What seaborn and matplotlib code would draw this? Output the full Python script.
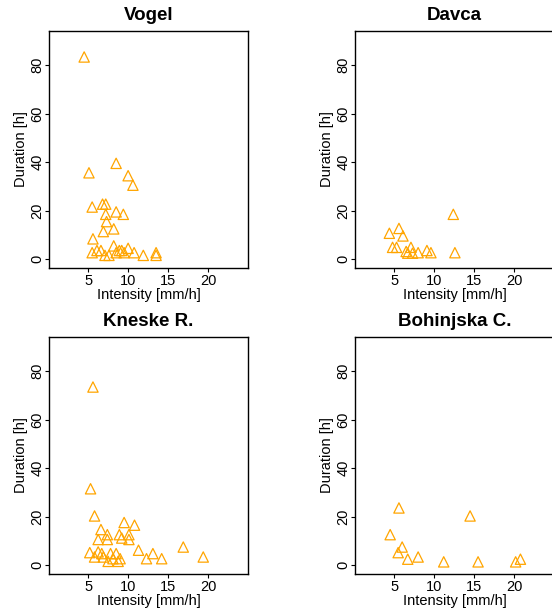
import pandas as pd
import matplotlib
matplotlib.use("Agg")
import matplotlib.pyplot as plt
import seaborn as sns

# Intensity [mm/h] and duration [h]
vogel_int = [4.5, 5.1, 8.5, 10.0, 10.6, 5.5, 6.8, 7.2, 7.2, 8.5, 9.4, 7.3, 6.9, 8.2, 5.6,
             5.5, 6.1, 6.6, 7.1, 7.6, 8.2, 8.5, 8.9, 9.2, 9.5, 10.0, 10.75, 11.9, 13.5, 13.5]
vogel_dur = [83.3, 35.6, 39.5, 34.4, 30.5, 21.5, 22.7, 22.7, 18.5, 19.5, 18.5, 15.5, 11.4, 12.5, 8.4,
             2.7, 3.6, 3.6, 1.6, 1.6, 5.5, 2.7, 3.6, 3.6, 2.7, 4.5, 2.7, 1.6, 2.7, 1.6]

davca_int = [4.4, 5.6, 6.1, 4.8, 5.3, 7.1, 6.5, 6.7, 7.3, 8.0, 9.1, 9.6, 12.4, 12.6]
davca_dur = [10.7, 12.7, 9.6, 4.9, 4.9, 4.9, 3.2, 2.5, 2.5, 2.7, 3.6, 2.7, 18.5, 2.7]

kneske_int = [5.6, 5.3, 5.8, 6.6, 6.25, 7.4, 7.4, 9.5, 10.8, 8.9, 9.2, 10.1, 10.1, 5.2, 6.25,
              6.7, 5.8, 6.9, 7.8, 8.5, 7.5, 8.1, 8.75, 9.0, 11.3, 12.3, 13.1, 14.2, 16.9, 19.4]
kneske_dur = [73.4, 31.5, 20.3, 14.7, 10.6, 12.6, 10.6, 17.6, 16.5, 12.6, 11.2, 12.6, 10.6, 5.2, 5.5,
              4.8, 3.4, 3.4, 4.8, 4.8, 1.6, 2.7, 1.6, 2.7, 6.2, 2.7, 4.8, 2.7, 7.5, 3.4]

bohinj_int = [4.5, 5.6, 6.0, 5.5, 6.7, 8.0, 11.2, 14.5, 15.5, 20.2, 20.8]
bohinj_dur = [12.6, 23.6, 7.5, 5.2, 2.5, 3.4, 1.4, 20.3, 1.4, 1.4, 2.5]

sites = ["Vogel", "Davca", "Kneske R.", "Bohinjska C."]
values = [(vogel_int, vogel_dur), (davca_int, davca_dur),
          (kneske_int, kneske_dur), (bohinj_int, bohinj_dur)]

sns.set_style("ticks")
plt.rcParams["font.family"] = ["Liberation Sans", "DejaVu Sans"]
plt.rcParams["text.color"] = "black"
plt.rcParams["axes.labelcolor"] = "black"

fig = plt.figure(figsize=(5.52, 6.12), dpi=100)
w, h = 199 / 552, 237 / 612
boxes = [(49 / 552, 1 - 268 / 612), (355 / 552, 1 - 268 / 612),
         (49 / 552, 1 - 574 / 612), (355 / 552, 1 - 574 / 612)]

for site, (xi, yd), (l, b) in zip(sites, values, boxes):
    ax = fig.add_axes([l, b, w, h])
    df = pd.DataFrame({"Intensity": xi, "Duration": yd})
    sns.scatterplot(data=df, x="Intensity", y="Duration", ax=ax, marker="^", s=55,
                    facecolor="none", edgecolor="orange", linewidth=0.9)
    ax.set_xlim(0.1, 25)
    ax.set_ylim(-3.6, 94)
    ax.set_xticks([5, 10, 15, 20])
    ax.set_yticks([0, 20, 40, 60, 80])
    for s in ax.spines.values():
        s.set_color("black")
        s.set_linewidth(1)
    ax.tick_params(length=3, width=0.8, labelsize=10.5, pad=1, colors="black")
    ax.tick_params(axis="y", pad=0.5)
    plt.setp(ax.get_yticklabels(), rotation=90, va="center")
    ax.set_xlabel("Intensity [mm/h]", fontsize=10.5, labelpad=0)
    ax.set_ylabel("Duration [h]", fontsize=10.5, labelpad=1.5)
    ax.set_title(site, fontsize=13.5, fontweight="bold", pad=8, color="black")

fig.savefig("out.png", dpi=100)
